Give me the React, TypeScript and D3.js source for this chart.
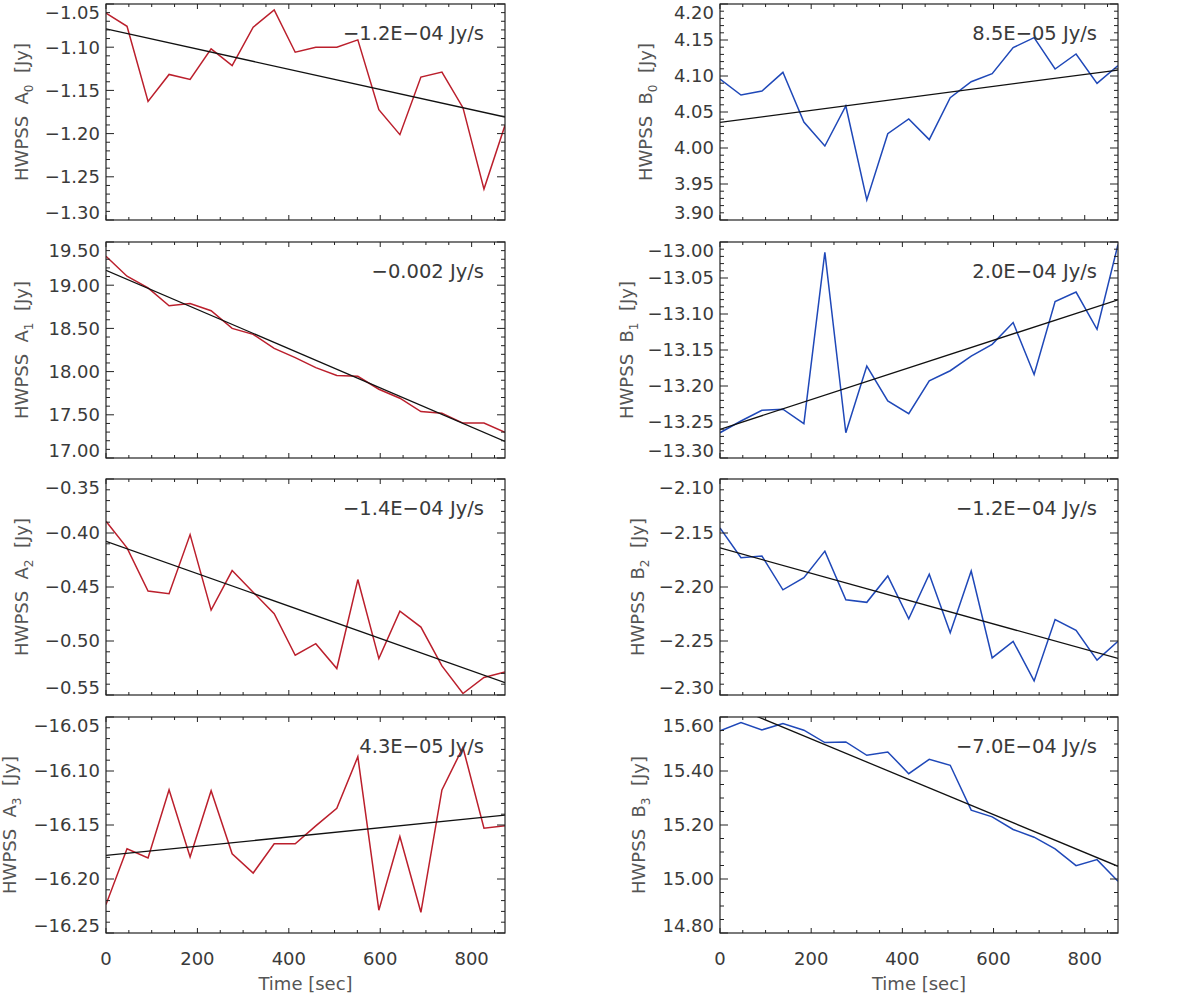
import { useEffect, useRef } from 'react'
import * as d3 from 'd3'

// sample times (sec)
const timeSec = [0, 46, 92, 138, 184, 230, 276, 322, 368, 414, 459, 505, 551, 597, 643, 689, 735, 781, 827, 873]

// HWPSS coefficients (Jy)
const hwpssA0 = [-1.0605, -1.0758, -1.1627, -1.1315, -1.1373, -1.1019, -1.1212, -1.0769, -1.0569, -1.1058, -1.1, -1.1, -1.0915, -1.1723, -1.2012, -1.1346, -1.1288, -1.17, -1.2642, -1.1904]
const hwpssA1 = [19.335, 19.104, 18.969, 18.762, 18.788, 18.704, 18.5, 18.431, 18.269, 18.162, 18.046, 17.954, 17.946, 17.796, 17.692, 17.538, 17.519, 17.404, 17.404, 17.296]
const hwpssA2 = [-0.3892, -0.4138, -0.4538, -0.4563, -0.4015, -0.4714, -0.4348, -0.4548, -0.4748, -0.5132, -0.5025, -0.5255, -0.4431, -0.5163, -0.4723, -0.4871, -0.5231, -0.5486, -0.5338, -0.5286]
const hwpssA3 = [-16.2237, -16.172, -16.1806, -16.1175, -16.1797, -16.1182, -16.1766, -16.1945, -16.1674, -16.1674, -16.1508, -16.1345, -16.0868, -16.2289, -16.1606, -16.2308, -16.1175, -16.0782, -16.1529, -16.1508]
const hwpssB0 = [4.0958, 4.0736, 4.0792, 4.1051, 4.0361, 4.0028, 4.0583, 3.9278, 4.0199, 4.0403, 4.0116, 4.0699, 4.0921, 4.1032, 4.1394, 4.1532, 4.1097, 4.1306, 4.0898, 4.1144]
const hwpssB1 = [-13.2649, -13.2486, -13.2337, -13.2323, -13.2523, -13.0142, -13.2649, -13.1723, -13.2207, -13.2384, -13.1928, -13.1788, -13.1584, -13.1421, -13.1119, -13.184, -13.0826, -13.0695, -13.1212, -13.0035]
const hwpssB2 = [-2.1454, -2.1729, -2.1714, -2.2026, -2.1913, -2.1668, -2.2118, -2.2142, -2.1898, -2.2295, -2.1882, -2.2424, -2.1852, -2.2656, -2.2503, -2.287, -2.2301, -2.2402, -2.2677, -2.2503]
const hwpssB3 = [15.5486, 15.5796, 15.5523, 15.5759, 15.5511, 15.5053, 15.5077, 15.4582, 15.4706, 15.3901, 15.4433, 15.4211, 15.2551, 15.2303, 15.1833, 15.1548, 15.1115, 15.0495, 15.0718, 14.9913]

// linear fits: value at first and last time
const fitA = [[-1.0788, -1.1808], [19.173, 17.192], [-0.4077, -0.5385], [-16.1782, -16.1409]]
const fitB = [[4.0356, 4.1083], [-13.2602, -13.0802], [-2.1638, -2.2662], [15.659, 15.047]]
const slopeA = ['−1.2E−04 Jy/s', '−0.002 Jy/s', '−1.4E−04 Jy/s', '4.3E−05 Jy/s']
const slopeB = ['8.5E−05 Jy/s', '2.0E−04 Jy/s', '−1.2E−04 Jy/s', '−7.0E−04 Jy/s']

// y axis ranges, major and minor steps
const yDomainA = [[-1.3, -1.05], [17.0, 19.5], [-0.55, -0.35], [-16.25, -16.05]]
const yDomainB = [[3.9, 4.2], [-13.3, -13.0], [-2.3, -2.1], [14.8, 15.6]]
const yMajorA = [0.05, 0.5, 0.05, 0.05]
const yMinorA = [0.01, 0.1, 0.01, 0.01]
const yMajorB = [0.05, 0.05, 0.05, 0.2]
const yMinorB = [0.01, 0.01, 0.01, 0.05]

const xDomain = [0, 873]
const xMajorTicks = [0, 200, 400, 600, 800]
const xMinorStep = 50

const RED = '#bb1f2c'
const BLUE = '#1f48b8'
const FONT = '"DejaVu Sans", sans-serif'
const TEXT = '#3a3a3a'

export default function App() {
  const svgRef = useRef<SVGSVGElement>(null)

  useEffect(() => {
    if (!svgRef.current) return
    const svg = d3.select(svgRef.current)
    svg.selectAll('*').remove()

    const width = 1200
    const height = 1000
    svg.attr('width', width).attr('height', height)

    const colX = [
      [106, 505],
      [720, 1118],
    ]
    const rowTop = [4, 242, 479, 717]
    const panelH = 216
    const titleOffset = [
      [84, 84, 84, 96],
      [74, 93, 82, 81],
    ]

    const seriesA = [hwpssA0, hwpssA1, hwpssA2, hwpssA3]
    const seriesB = [hwpssB0, hwpssB1, hwpssB2, hwpssB3]
    const fmt = d3.format('.2f')

    const makeTicks = (lo: number, hi: number, step: number) => {
      const n = Math.round((hi - lo) / step)
      return d3.range(n + 1).map((i) => lo + i * step)
    }

    for (let col = 0; col < 2; col++) {
      for (let row = 0; row < 4; row++) {
        const [x0, x1] = colX[col]
        const top = rowTop[row]
        const bottom = top + panelH
        const values = col === 0 ? seriesA[row] : seriesB[row]
        const yDom = col === 0 ? yDomainA[row] : yDomainB[row]
        const major = col === 0 ? yMajorA[row] : yMajorB[row]
        const minor = col === 0 ? yMinorA[row] : yMinorB[row]
        const fit = col === 0 ? fitA[row] : fitB[row]
        const slope = col === 0 ? slopeA[row] : slopeB[row]
        const color = col === 0 ? RED : BLUE

        const xScale = d3.scaleLinear().domain(xDomain).range([x0, x1])
        const yScale = d3.scaleLinear().domain(yDom).range([bottom, top])

        const g = svg.append('g')
        const clipId = `clip-${col}-${row}`
        g.append('clipPath')
          .attr('id', clipId)
          .append('rect')
          .attr('x', x0)
          .attr('y', top)
          .attr('width', x1 - x0)
          .attr('height', panelH)

        // data line
        const line = d3
          .line<number>()
          .x((_, i) => xScale(timeSec[i]))
          .y((d) => yScale(d))
        g.append('path')
          .datum(values)
          .attr('clip-path', `url(#${clipId})`)
          .attr('fill', 'none')
          .attr('stroke', color)
          .attr('stroke-width', 1.5)
          .attr('d', line)

        // fit line
        const fitLine = d3
          .line<number>()
          .x((_, i) => xScale(xDomain[i]))
          .y((d) => yScale(d))
        g.append('path')
          .datum(fit)
          .attr('clip-path', `url(#${clipId})`)
          .attr('fill', 'none')
          .attr('stroke', '#111')
          .attr('stroke-width', 1.3)
          .attr('d', fitLine)

        // frame
        g.append('rect')
          .attr('x', x0)
          .attr('y', top)
          .attr('width', x1 - x0)
          .attr('height', panelH)
          .attr('fill', 'none')
          .attr('stroke', '#222')
          .attr('stroke-width', 1.2)

        // y ticks (inward, both sides)
        const yMajors = makeTicks(yDom[0], yDom[1], major)
        const yMinors = makeTicks(yDom[0], yDom[1], minor)
        yMinors.forEach((v) => {
          const y = yScale(v)
          const isMajor = yMajors.some((m) => Math.abs(m - v) < minor / 10)
          const len = isMajor ? 8 : 4
          g.append('line').attr('x1', x0).attr('x2', x0 + len).attr('y1', y).attr('y2', y).attr('stroke', '#222').attr('stroke-width', 1)
          g.append('line').attr('x1', x1).attr('x2', x1 - len).attr('y1', y).attr('y2', y).attr('stroke', '#222').attr('stroke-width', 1)
        })
        yMajors.forEach((v) => {
          const y = Math.min(Math.max(yScale(v), top + 9), bottom - 7)
          g.append('text')
            .attr('x', x0 - 6)
            .attr('y', y)
            .attr('dy', '0.36em')
            .attr('text-anchor', 'end')
            .attr('font-family', FONT)
            .attr('font-size', 18)
            .attr('fill', TEXT)
            .text(fmt(v))
        })

        // x ticks (inward, top and bottom)
        const xMinors = d3.range(0, xDomain[1] + 1, xMinorStep)
        xMinors.forEach((v) => {
          const x = xScale(v)
          const len = xMajorTicks.includes(v) ? 5 : 3
          g.append('line').attr('x1', x).attr('x2', x).attr('y1', bottom).attr('y2', bottom - len).attr('stroke', '#222').attr('stroke-width', 1)
          g.append('line').attr('x1', x).attr('x2', x).attr('y1', top).attr('y2', top + len).attr('stroke', '#222').attr('stroke-width', 1)
        })
        if (row === 3) {
          xMajorTicks.forEach((v) => {
            g.append('text')
              .attr('x', xScale(v))
              .attr('y', bottom + 32)
              .attr('text-anchor', 'middle')
              .attr('font-family', FONT)
              .attr('font-size', 18)
              .attr('fill', TEXT)
              .text(v)
          })
          g.append('text')
            .attr('x', (x0 + x1) / 2)
            .attr('y', bottom + 57)
            .attr('text-anchor', 'middle')
            .attr('font-family', FONT)
            .attr('font-size', 18)
            .attr('fill', '#555')
            .style('white-space', 'pre')
            .text('Time [sec]')
        }

        // slope annotation
        g.append('text')
          .attr('x', x1 - 21)
          .attr('y', top + 36)
          .attr('text-anchor', 'end')
          .attr('font-family', FONT)
          .attr('font-size', 19.5)
          .attr('fill', TEXT)
          .style('white-space', 'pre')
          .text(slope)

        // y title
        const tx = x0 - titleOffset[col][row]
        const ty = (top + bottom) / 2
        const title = g
          .append('text')
          .attr('transform', `translate(${tx},${ty}) rotate(-90)`)
          .attr('text-anchor', 'middle')
          .attr('dy', '0.36em')
          .attr('font-family', FONT)
          .attr('font-size', 18)
          .attr('fill', '#555')
          .style('white-space', 'pre')
        title.append('tspan').text(`HWPSS  ${col === 0 ? 'A' : 'B'}`)
        title.append('tspan').attr('dy', 5).attr('font-size', 12).text(String(row))
        title.append('tspan').attr('dy', -5).text('  [Jy]')
      }
    }
  }, [])

  return (
    <div style={{ position: 'absolute', left: 0, top: 0, width: 1200, height: 1000, background: '#fff' }}>
      <svg ref={svgRef}></svg>
    </div>
  )
}
